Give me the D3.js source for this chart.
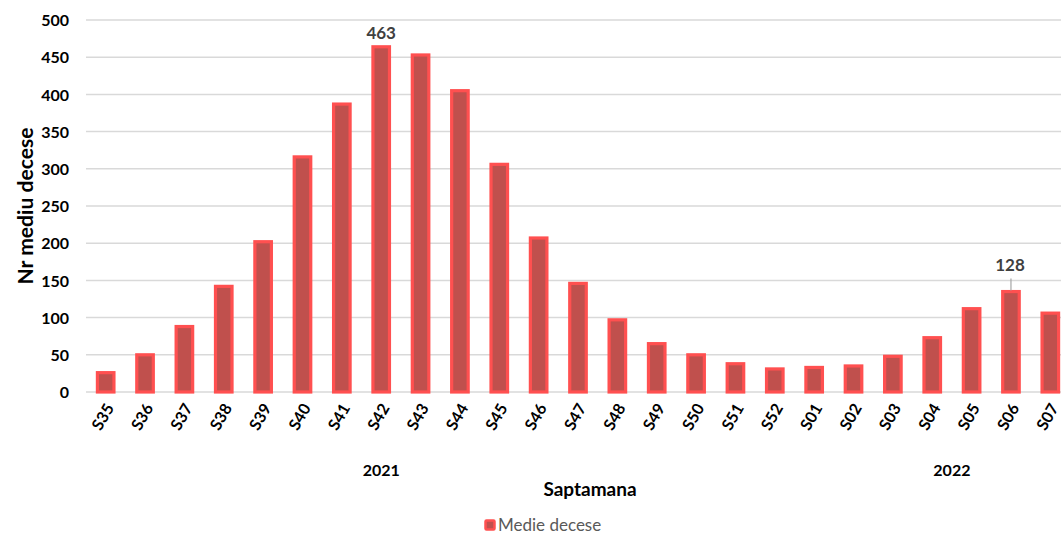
<!DOCTYPE html>
<html>
<head>
<meta charset="utf-8">
<script src="https://cdn.jsdelivr.net/npm/d3@7"></script>
<style>
  html, body { margin: 0; padding: 0; background: #fff; }
  svg { display: block; font-family: Lato, "Open Sans", sans-serif; }
</style>
</head>
<body>
<svg id="chart" width="1061" height="536"></svg>
<script>
const weeks = ["S35","S36","S37","S38","S39","S40","S41","S42","S43","S44","S45","S46","S47","S48","S49","S50","S51","S52","S01","S02","S03","S04","S05","S06","S07"];
const values = [26, 50, 88, 142, 202, 316, 387, 464, 453, 405, 306, 207, 146, 97, 65, 50, 38, 31, 33, 35, 48, 73, 112, 135, 106];
const yTicks = [0, 50, 100, 150, 200, 250, 300, 350, 400, 450, 500];
const annotations = [{ week: "S42", text: "463", leader: false }, { week: "S06", text: "128", leader: true }];
const years = [{ label: "2021", from: "S42", to: "S42" }, { label: "2022", from: "S04", to: "S05" }];
const seriesName = "Medie decese";

const svg = d3.select("#chart");
const x = d3.scaleBand().domain(weeks).range([86, 1070]).paddingInner(0.58).paddingOuter(0.29);
const y = d3.scaleLinear().domain([0, 500]).range([392, 20]);

// gridlines
svg.append("g").selectAll("line").data(yTicks).join("line")
  .attr("x1", 86).attr("x2", 1070)
  .attr("y1", d => y(d)).attr("y2", d => y(d))
  .attr("stroke", "#d9d9d9").attr("stroke-width", 1.5);

// y axis labels
const yAxis = d3.axisLeft(y).tickValues(yTicks).tickSize(0).tickPadding(0);
const gy = svg.append("g").attr("transform", "translate(69,0)").call(yAxis);
gy.select(".domain").remove();
gy.selectAll("text").attr("font-size", 16).attr("font-weight", "bold").attr("fill", "#000")
  .attr("font-family", "Lato, sans-serif").attr("dy", "0.35em");

// bars
svg.append("g").selectAll("rect").data(weeks).join("rect")
  .attr("x", d => x(d)).attr("width", x.bandwidth())
  .attr("y", (d, i) => y(values[i])).attr("height", (d, i) => y(0) - y(values[i]))
  .attr("fill", "#C0504D").attr("stroke", "#FF5050").attr("stroke-width", 3.2);

// x axis labels
const xAxis = d3.axisBottom(x).tickSize(0).tickPadding(0);
const gx = svg.append("g").attr("transform", "translate(0,405)").call(xAxis);
gx.select(".domain").remove();
gx.selectAll("text")
  .attr("font-size", 16).attr("font-weight", "bold").attr("fill", "#000")
  .attr("font-family", "Lato, sans-serif")
  .attr("text-anchor", "end").attr("dy", "0.35em")
  .attr("transform", "translate(4,0) rotate(-60)");

// data labels
const ann = svg.append("g");
annotations.forEach(a => {
  const i = weeks.indexOf(a.week);
  const cx = x(a.week) + x.bandwidth() / 2;
  const top = y(values[i]);
  if (a.leader) {
    ann.append("line").attr("x1", cx).attr("x2", cx).attr("y1", top - 13).attr("y2", top - 1)
      .attr("stroke", "#a6a6a6").attr("stroke-width", 1.2);
    ann.append("text").attr("x", cx - 1).attr("y", top - 21).text(a.text)
      .attr("text-anchor", "middle").attr("font-size", 17).attr("font-weight", "bold").attr("fill", "#404040");
  } else {
    ann.append("text").attr("x", cx).attr("y", top - 8).text(a.text)
      .attr("text-anchor", "middle").attr("font-size", 17).attr("font-weight", "bold").attr("fill", "#404040");
  }
});

// year labels
svg.append("g").selectAll("text").data(years).join("text")
  .attr("x", d => (x(d.from) + x(d.to) + x.bandwidth()) / 2)
  .attr("y", 476)
  .attr("text-anchor", "middle").attr("font-size", 16).attr("font-weight", "bold").attr("fill", "#000")
  .text(d => d.label);

// axis titles
svg.append("text").attr("x", 590).attr("y", 496).attr("text-anchor", "middle")
  .attr("font-size", 19).attr("font-weight", "bold").attr("fill", "#000").text("Saptamana");
svg.append("text").attr("transform", "translate(33,206) rotate(-90)").attr("text-anchor", "middle")
  .attr("font-size", 20).attr("font-weight", "bold").attr("fill", "#000")
  .attr("textLength", 157).attr("lengthAdjust", "spacingAndGlyphs").text("Nr mediu decese");

// legend
const lg = svg.append("g").attr("transform", "translate(484,519)");
lg.append("rect").attr("x", 1.5).attr("y", 1.5).attr("width", 9).attr("height", 9)
  .attr("fill", "#C0504D").attr("stroke", "#FF5050").attr("stroke-width", 2.5).attr("rx", 1);
lg.append("text").attr("x", 14).attr("y", 6).attr("dy", "0.35em")
  .attr("font-size", 17).attr("fill", "#595959").text(seriesName);
</script>
</body>
</html>
